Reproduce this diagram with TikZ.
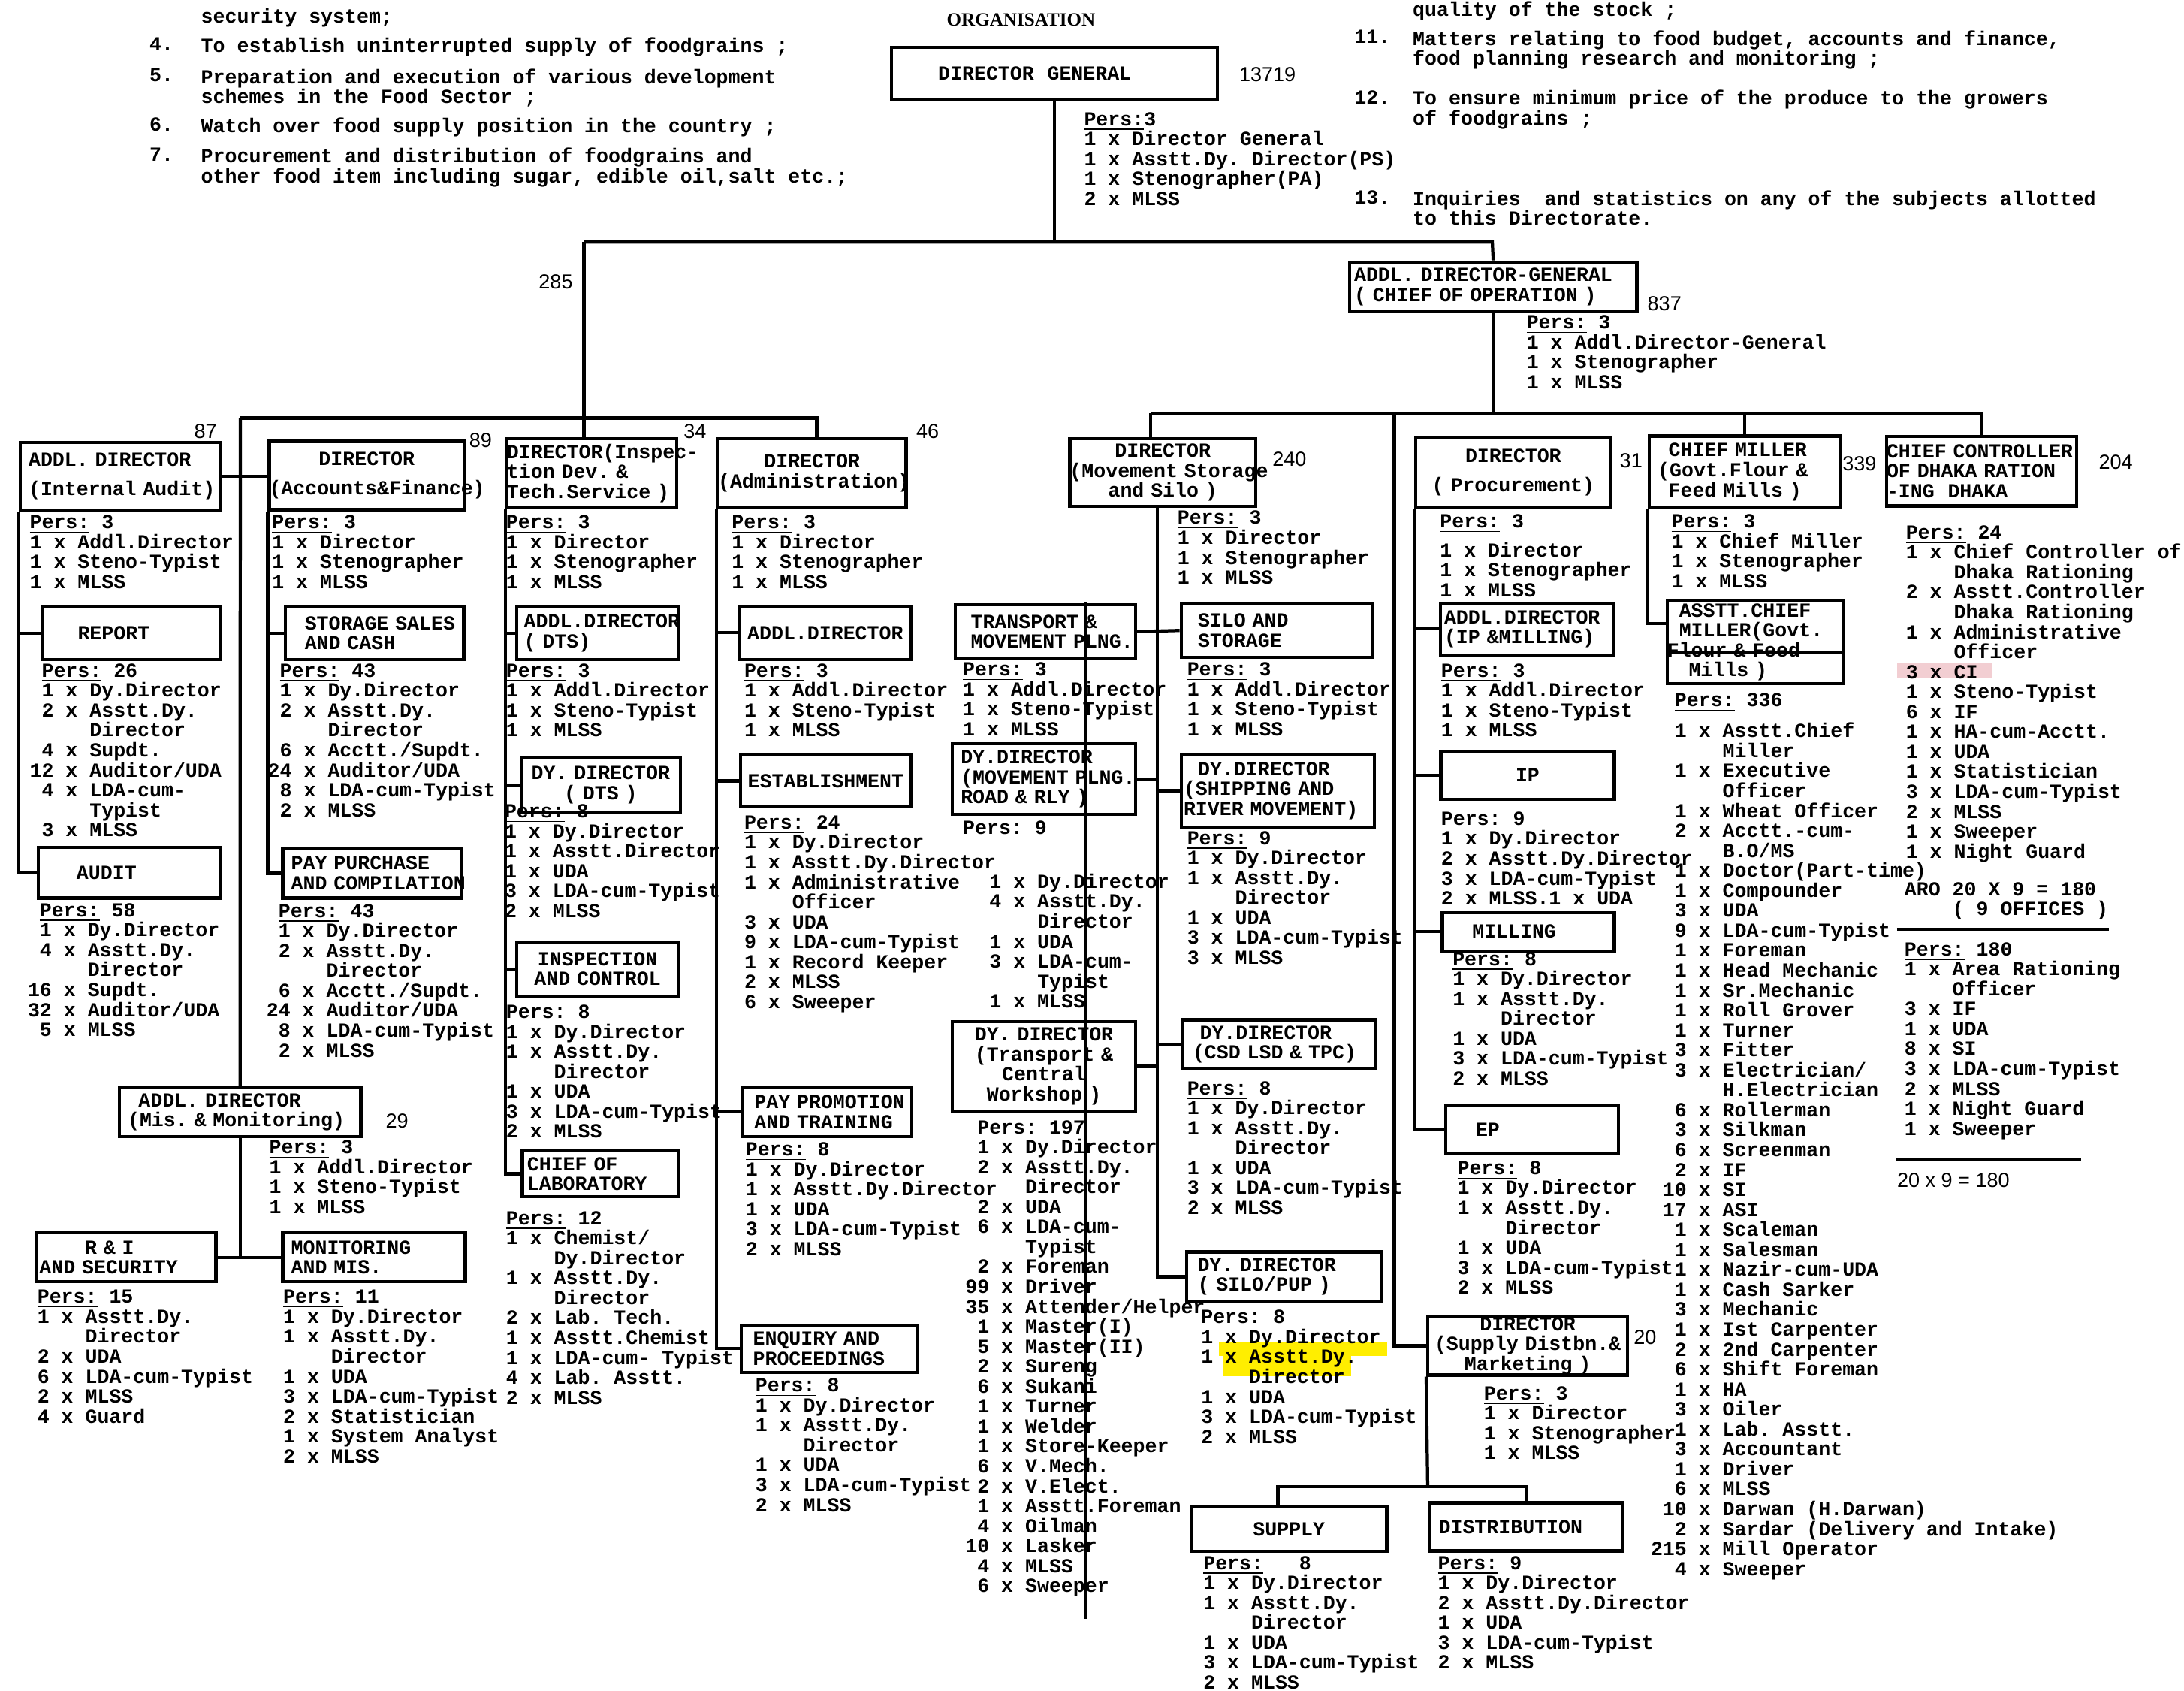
\documentclass[tikz,border=0pt]{standalone}
\usepackage{fontspec}
\setmainfont{Liberation Serif}
\setsansfont{Liberation Sans}
\setmonofont{Liberation Mono}
\frenchspacing
\newcommand{\chartfont}{\ttfamily\bfseries\fontsize{8.16}{8.15}\selectfont\lineskiplimit=-20pt}
\newcommand{\tallyfont}{\sffamily\fontsize{8.3}{9}\selectfont}
\newcommand{\titlefont}{\rmfamily\bfseries\fontsize{7.7}{9}\selectfont}
\newcommand{\Pers}{\underline{Pers:}}
\newcommand{\cols}[1]{\hspace*{#1\fontcharwd\font`0}}
\definecolor{marker}{RGB}{255,238,0}
\definecolor{rosemark}{RGB}{242,206,210}
\tikzstyle{unit} = [rectangle, draw=black, line width=1.3pt, inner sep=0pt, align=center, font=\chartfont]
\tikzstyle{staff} = [anchor=north west, inner sep=0pt, align=left, font=\chartfont]
\tikzstyle{tally} = [inner sep=0pt, font=\tallyfont]
\tikzstyle{link} = [line width=1.3pt]

\begin{document}
\begin{tikzpicture}[x=0.02cm, y=-0.02cm]
\path[use as bounding box, fill=white] (0,0) rectangle (1568,1213.7);

% marked lines
\fill[marker] (875,963) rectangle (996,973.5);
\fill[marker] (878,973.5) rectangle (970,988);
\fill[rosemark] (1362,476) rectangle (1430,486.5);

% functions of the directorate
\node (titl) [font=\titlefont, inner sep=0pt] at (733,14.4) {ORGANISATION};
\node (duty3) [staff] at (144,5.8) {security system;};
\node (num4) [staff] at (107,26.7) {4.};
\node (duty4) [staff] at (144,26.7) {To establish uninterrupted supply of foodgrains ;};
\node (num5) [staff] at (107,48.9) {5.};
\node (duty5) [staff] at (144,48.9) {Preparation and execution of various development\\schemes in the Food Sector ;};
\node (num6) [staff] at (107,84.1) {6.};
\node (duty6) [staff] at (144,84.1) {Watch over food supply position in the country ;};
\node (num7) [staff] at (107,105.8) {7.};
\node (duty7) [staff] at (144,105.8) {Procurement and distribution of foodgrains and\\other food item including sugar, edible oil,salt etc.;};
\node (duty10) [staff] at (1014,0.5) {quality of the stock ;};
\node (num11) [staff] at (972,21.4) {11.};
\node (duty11) [staff] at (1014,21.4) {Matters relating to food budget, accounts and finance,\\food planning research and monitoring ;};
\node (num12) [staff] at (972,64.5) {12.};
\node (duty12) [staff] at (1014,64.5) {To ensure minimum price of the produce to the growers\\of foodgrains ;};
\node (num13) [staff] at (972,136.4) {13.};
\node (duty13) [staff] at (1014,136.4) {Inquiries~ and statistics on any of the subjects allotted\\to this Directorate.};

% head office
\node (dg) [unit, align=left, text width=4.68cm, minimum height=0.75cm] at (757,52.8) {\cols{3.9}DIRECTOR~~GENERAL};
\node (addldg) [unit, align=left, text width=4.13cm, minimum height=0.71cm] at (1072,205.8) {\cols{0.4}ADDL. DIRECTOR-GENERAL\\\cols{0.4}( CHIEF OF OPERATION )};

% directors, left wing
\node (ia) [unit, align=left, text width=2.88cm, minimum height=0.97cm] at (86.5,341.7) {\cols{0.7}ADDL. DIRECTOR\\[4pt]\cols{0.7}(Internal~Audit)};
\node (acc) [unit, text width=2.80cm, minimum height=0.98cm] at (263.3,341.3) {DIRECTOR\\[4pt](Accounts\&Finance)};
\node (insp) [unit, align=left, text width=2.44cm, minimum height=0.99cm] at (424.9,339.7) {DIRECTOR(Inspec-\\tion Dev. \&\\Tech.Service~)};
\node (admin) [unit, text width=2.70cm, minimum height=0.99cm] at (583,339.7) {DIRECTOR\\(Administration)};
\node (report) [unit, align=left, text width=2.56cm, minimum height=0.76cm] at (94,454.5) {\cols{3}REPORT};
\node (audit) [unit, align=left, text width=2.61cm, minimum height=0.73cm] at (92.7,626.3) {\cols{3.2}AUDIT};
\node (ssc) [unit, align=left, text width=2.56cm, minimum height=0.76cm] at (269,454.5) {\cols{1.6}STORAGE~SALES\\\cols{1.6}AND CASH};
\node (ppc) [unit, align=left, text width=2.56cm, minimum height=0.71cm] at (267,626.8) {\cols{0.7}PAY~PURCHASE\\\cols{0.7}AND~COMPILATION};
\node (addldts) [unit, align=left, text width=2.32cm, minimum height=0.76cm] at (429,454.5) {\cols{0.6}ADDL.DIRECTOR\\\cols{0.6}( DTS)};
\node (dydts) [unit, text width=2.29cm, minimum height=0.78cm] at (431.3,563.5) {DY. DIRECTOR\\( DTS )};
\node (insctrl) [unit, text width=2.32cm, minimum height=0.78cm] at (429,695.5) {INSPECTION\\AND CONTROL};
\node (chieflab) [unit, align=left, text width=2.24cm, minimum height=0.66cm] at (431,842.5) {\cols{0.4}CHIEF OF\\\cols{0.4}LABORATORY};
\node (addlad) [unit, text width=2.46cm, minimum height=0.77cm] at (592.5,454.2) {ADDL.DIRECTOR};
\node (estab) [unit, text width=2.45cm, minimum height=0.74cm] at (592.8,560.5) {ESTABLISHMENT};
\node (ppt) [unit, align=left, text width=2.43cm, minimum height=0.71cm] at (593.7,798.2) {\cols{1}PAY~PROMOTION\\\cols{1}AND~TRAINING};
\node (enq) [unit, align=left, text width=2.54cm, minimum height=0.68cm] at (595.5,968) {\cols{1}ENQUIRY~AND\\\cols{1}PROCEEDINGS};
\node (mis) [unit, align=left, text width=3.47cm, minimum height=0.71cm] at (172.4,798.2) {\cols{1.6}ADDL. DIRECTOR\\\cols{0.7}(Mis.~\&~Monitoring)};
\node (ri) [unit, align=left, text width=2.57cm, minimum height=0.70cm] at (90.8,902.5) {\cols{4}R \& I\\\cols{0.2}AND~SECURITY};
\node (mon) [unit, align=left, text width=2.62cm, minimum height=0.70cm] at (268.5,902.5) {\cols{0.7}MONITORING\\\cols{0.7}AND MIS.};

% directors, operation wing
\node (move) [unit, text width=2.67cm, minimum height=0.97cm] at (834.8,339.1) {DIRECTOR\\(Movement~Storage\\and Silo )};
\node (transp) [unit, align=left, text width=2.59cm, minimum height=0.77cm] at (750.5,453.3) {\cols{1.3}TRANSPORT~\&\\\cols{1.3}MOVEMENT~PLNG.};
\node (road) [unit, align=left, text width=2.63cm, minimum height=1.01cm] at (749.5,559.2) {\cols{0.7}DY.DIRECTOR\\\cols{0.7}(MOVEMENT~PLNG.\\\cols{0.7}ROAD~\&~RLY~)};
\node (tcw) [unit, text width=2.63cm, minimum height=1.28cm] at (749.5,765.4) {DY. DIRECTOR\\(Transport \&\\Central\\Workshop )};
\node (silo) [unit, align=left, text width=2.74cm, minimum height=0.78cm] at (916.5,452.5) {\cols{1.4}SILO AND\\\cols{1.4}STORAGE};
\node (ship) [unit, align=left, text width=2.77cm, minimum height=1.05cm] at (917.3,567.5) {\cols{1.4}DY.DIRECTOR\\\cols{0.2}(SHIPPING~AND\\\cols{0.2}RIVER~MOVEMENT)};
\node (csd) [unit, align=left, text width=2.77cm, minimum height=0.71cm] at (918.6,749.7) {\cols{1.4}DY.DIRECTOR\\\cols{0.8}(CSD~LSD~\&~TPC)};
\node (silopup) [unit, align=left, text width=2.80cm, minimum height=0.71cm] at (922,916.3) {\cols{0.9}DY. DIRECTOR\\\cols{0.9}( SILO/PUP )};
\node (proc) [unit, text width=2.80cm, minimum height=1.02cm] at (1086.4,339.1) {DIRECTOR\\[4pt]( Procurement)};
\node (ipm) [unit, align=left, text width=2.48cm, minimum height=0.74cm] at (1096.3,451.5) {\cols{0.3}ADDL.DIRECTOR\\\cols{0.3}(IP~\&MILLING)};
\node (ip) [unit, text width=2.49cm, minimum height=0.68cm] at (1096.7,556.5) {IP};
\node (milling) [unit, align=left, text width=2.47cm, minimum height=0.55cm] at (1097.2,668.7) {\cols{2.5}MILLING};
\node (ep) [unit, align=left, text width=2.48cm, minimum height=0.69cm] at (1100,810.8) {\cols{2.5}EP};
\node (sd) [unit, text width=2.87cm, minimum height=0.84cm] at (1096.8,966) {DIRECTOR\\(Supply~Distbn.\&\\Marketing )};
\node (supply) [unit, text width=2.81cm, minimum height=0.64cm] at (925.4,1097.6) {SUPPLY};
\node (distr) [unit, align=left, text width=2.78cm, minimum height=0.69cm] at (1095.5,1095.9) {\cols{0.8}DISTRIBUTION};
\node (cm) [unit, align=left, text width=2.74cm, minimum height=1.03cm] at (1252.6,338.8) {\cols{1.6}CHIEF~MILLER\\\cols{0.7}(Govt.Flour~\&\\\cols{1.6}Feed~Mills~)};
\node (acm) [unit, align=left, text width=2.54cm, minimum height=1.18cm] at (1260.4,461) {\cols{1}ASSTT.CHIEF\\\cols{1}MILLER(Govt.\\Flour~\&~Feed\\\cols{1.8}Mills )};
\node (cc) [unit, align=left, text width=2.73cm, minimum height=1.00cm] at (1422.7,338.1) {CHIEF~CONTROLLER\\OF~DHAKA~RATION\\-ING~~DHAKA};

% strength figures
\node (dgtotal) [tally] at (910,53.6) {13719};
\node (lefttotal) [tally] at (399,202.5) {285};
\node (addldgtotal) [tally] at (1195,218.2) {837};
\node (iatotal) [tally] at (147.6,309.6) {87};
\node (acctotal) [tally] at (345,316) {89};
\node (insptotal) [tally] at (499,309.6) {34};
\node (admintotal) [tally] at (666,309.6) {46};
\node (movetotal) [tally] at (925.7,329.8) {240};
\node (proctotal) [tally] at (1171,330.5) {31};
\node (cmtotal) [tally] at (1335,333) {339};
\node (cctotal) [tally] at (1519,331.8) {204};
\node (mistotal) [tally] at (285,804.5) {29};
\node (sdtotal) [tally] at (1181,959.6) {20};
\node (arototal) [tally, anchor=west] at (1361.7,847) {20 x 9 = 180};

% personnel
\node (dgstaff) [staff] at (778,80.2) {\Pers3\\1 x Director General\\1 x Asstt.Dy. Director(PS)\\1 x Stenographer(PA)\\2 x MLSS};
\node (addldgstaff) [staff] at (1095.7,226) {\Pers~3\\1 x Addl.Director-General\\1 x Stenographer\\1 x MLSS};
\node (iastaff) [staff] at (21,369.5) {\Pers~3\\1 x Addl.Director\\1 x Steno-Typist\\1 x MLSS};
\node (accstaff) [staff] at (195,369.5) {\Pers~3\\1 x Director\\1 x Stenographer\\1 x MLSS};
\node (inspstaff) [staff] at (363,369.5) {\Pers~3\\1 x Director\\1 x Stenographer\\1 x MLSS};
\node (adminstaff) [staff] at (525,369.5) {\Pers~3\\1 x Director\\1 x Stenographer\\1 x MLSS};
\node (reportstaff) [staff] at (21,476) {\cols{1}\Pers~26\\\cols{1}1 x Dy.Director\\\cols{1}2 x Asstt.Dy.\\\cols{5}Director\\\cols{1}4 x Supdt.\\12 x Auditor/UDA\\\cols{1}4 x LDA-cum-\\\cols{5}Typist\\\cols{1}3 x MLSS};
\node (auditstaff) [staff] at (19.6,648) {\cols{1}\Pers~58\\\cols{1}1 x Dy.Director\\\cols{1}4 x Asstt.Dy.\\\cols{5}Director\\16 x Supdt.\\32 x Auditor/UDA\\\cols{1}5 x MLSS};
\node (sscstaff) [staff] at (192,476) {\cols{1}\Pers~43\\\cols{1}1 x Dy.Director\\\cols{1}2 x Asstt.Dy.\\\cols{5}Director\\\cols{1}6 x Acctt./Supdt.\\24 x Auditor/UDA\\\cols{1}8 x LDA-cum-Typist\\\cols{1}2 x MLSS};
\node (ppcstaff) [staff] at (191,648.5) {\cols{1}\Pers~43\\\cols{1}1 x Dy.Director\\\cols{1}2 x Asstt.Dy.\\\cols{5}Director\\\cols{1}6 x Acctt./Supdt.\\24 x Auditor/UDA\\\cols{1}8 x LDA-cum-Typist\\\cols{1}2 x MLSS};
\node (addldtsstaff) [staff] at (363,476) {\Pers~3\\1 x Addl.Director\\1 x Steno-Typist\\1 x MLSS};
\node (dydtsstaff) [staff] at (362,577) {\Pers~8\\1 x Dy.Director\\1 x Asstt.Director\\1 x UDA\\3 x LDA-cum-Typist\\2 x MLSS};
\node (insctrlstaff) [staff] at (363,721) {\Pers~8\\1 x Dy.Director\\1 x Asstt.Dy.\\\cols{4}Director\\1 x UDA\\3 x LDA-cum-Typist\\2 x MLSS};
\node (chieflabstaff) [staff] at (363,869) {\Pers~12\\1 x Chemist/\\\cols{4}Dy.Director\\1 x Asstt.Dy.\\\cols{4}Director\\2 x Lab. Tech.\\1 x Asstt.Chemist\\1 x LDA-cum- Typist\\4 x Lab. Asstt.\\2 x MLSS};
\node (addladstaff) [staff] at (534,476) {\Pers~3\\1 x Addl.Director\\1 x Steno-Typist\\1 x MLSS};
\node (estabstaff) [staff] at (534,585) {\Pers~24\\1 x Dy.Director\\1 x Asstt.Dy.Director\\1 x Administrative\\\cols{4}Officer\\3 x UDA\\9 x LDA-cum-Typist\\1 x Record Keeper\\2 x MLSS\\6 x Sweeper};
\node (pptstaff) [staff] at (535,819.7) {\Pers~8\\1 x Dy.Director\\1 x Asstt.Dy.Director\\1 x UDA\\3 x LDA-cum-Typist\\2 x MLSS};
\node (enqstaff) [staff] at (542,989) {\Pers~8\\1 x Dy.Director\\1 x Asstt.Dy.\\\cols{4}Director\\1 x UDA\\3 x LDA-cum-Typist\\2 x MLSS};
\node (misstaff) [staff] at (193,818) {\Pers~3\\1 x Addl.Director\\1 x Steno-Typist\\1 x MLSS};
\node (ristaff) [staff] at (26.5,925.6) {\Pers~15\\1 x Asstt.Dy.\\\cols{4}Director\\2 x UDA\\6 x LDA-cum-Typist\\2 x MLSS\\4 x Guard};
\node (monstaff) [staff] at (203,925.6) {\Pers~11\\1 x Dy.Director\\1 x Asstt.Dy.\\\cols{4}Director\\1 x UDA\\3 x LDA-cum-Typist\\2 x Statistician\\1 x System Analyst\\2 x MLSS};
\node (movestaff) [staff] at (845,366.4) {\Pers~3\\1 x Director\\1 x Stenographer\\1 x MLSS};
\node (transpstaff) [staff] at (691,475.2) {\Pers~3\\1 x Addl.Director\\1 x Steno-Typist\\1 x MLSS};
\node (roadpers) [staff] at (691,588.9) {\Pers~9};
\node (roadstaff) [staff] at (710,626.8) {1 x Dy.Director\\4 x Asstt.Dy.\\\cols{4}Director\\1 x UDA\\3 x LDA-cum-\\\cols{4}Typist\\1 x MLSS};
\node (tcwstaff) [staff] at (692.7,803.7) {\cols{1}\Pers~197\\\cols{1}1 x Dy.Director\\\cols{1}2 x Asstt.Dy.\\\cols{5}Director\\\cols{1}2 x UDA\\\cols{1}6 x LDA-cum-\\\cols{5}Typist\\\cols{1}2 x Foreman\\99 x Driver\\35 x Attender/Helper\\\cols{1}1 x Master(I)\\\cols{1}5 x Master(II)\\\cols{1}2 x Sureng\\\cols{1}6 x Sukani\\\cols{1}1 x Turner\\\cols{1}1 x Welder\\\cols{1}1 x Store-Keeper\\\cols{1}6 x V.Mech.\\\cols{1}2 x V.Elect.\\\cols{1}1 x Asstt.Foreman\\\cols{1}4 x Oilman\\10 x Lasker\\\cols{1}4 x MLSS\\\cols{1}6 x Sweeper};
\node (silostaff) [staff] at (852,475.2) {\Pers~3\\1 x Addl.Director\\1 x Steno-Typist\\1 x MLSS};
\node (shipstaff) [staff] at (852,596.2) {\Pers~9\\1 x Dy.Director\\1 x Asstt.Dy.\\\cols{4}Director\\1 x UDA\\3 x LDA-cum-Typist\\3 x MLSS};
\node (csdstaff) [staff] at (852,775.7) {\Pers~8\\1 x Dy.Director\\1 x Asstt.Dy.\\\cols{4}Director\\1 x UDA\\3 x LDA-cum-Typist\\2 x MLSS};
\node (silopupstaff) [staff] at (862,940) {\Pers~8\\1 x Dy.Director\\1 x Asstt.Dy.\\\cols{4}Director\\1 x UDA\\3 x LDA-cum-Typist\\2 x MLSS};
\node (supplystaff) [staff] at (863.6,1116.5) {\Pers~~~8\\1 x Dy.Director\\1 x Asstt.Dy.\\\cols{4}Director\\1 x UDA\\3 x LDA-cum-Typist\\2 x MLSS};
\node (distrstaff) [staff] at (1032,1116.5) {\Pers~9\\1 x Dy.Director\\2 x Asstt.Dy.Director\\1 x UDA\\3 x LDA-cum-Typist\\2 x MLSS};
\node (procstaff) [staff] at (1033.5,369) {\Pers~3\\[3.7pt]1 x Director\\1 x Stenographer\\1 x MLSS};
\node (ipmstaff) [staff] at (1034.3,476) {\Pers~3\\1 x Addl.Director\\1 x Steno-Typist\\1 x MLSS};
\node (ipstaff) [staff] at (1034.3,582.3) {\Pers~9\\1 x Dy.Director\\2 x Asstt.Dy.Director\\3 x LDA-cum-Typist\\2 x MLSS.1 x UDA};
\node (millingstaff) [staff] at (1042.6,683) {\Pers~8\\1 x Dy.Director\\1 x Asstt.Dy.\\\cols{4}Director\\1 x UDA\\3 x LDA-cum-Typist\\2 x MLSS};
\node (epstaff) [staff] at (1046,833) {\Pers~8\\1 x Dy.Director\\1 x Asstt.Dy.\\\cols{4}Director\\1 x UDA\\3 x LDA-cum-Typist\\2 x MLSS};
\node (sdstaff) [staff] at (1065,994.6) {\Pers~3\\1 x Director\\1 x Stenographer\\1 x MLSS};
\node (cmstaff) [staff] at (1199.7,369) {\Pers~3\\1 x Chief Miller\\1 x Stenographer\\1 x MLSS};
\node (acmstaff) [staff] at (1184.8,497.4) {\cols{2}\Pers~336\\[4.4pt]\cols{2}1 x Asstt.Chief\\\cols{6}Miller\\\cols{2}1 x Executive\\\cols{6}Officer\\\cols{2}1 x Wheat Officer\\\cols{2}2 x Acctt.-cum-\\\cols{6}B.O/MS\\\cols{2}1 x Doctor(Part-time)\\\cols{2}1 x Compounder\\\cols{2}3 x UDA\\\cols{2}9 x LDA-cum-Typist\\\cols{2}1 x Foreman\\\cols{2}1 x Head Mechanic\\\cols{2}1 x Sr.Mechanic\\\cols{2}1 x Roll Grover\\\cols{2}1 x Turner\\\cols{2}3 x Fitter\\\cols{2}3 x Electrician/\\\cols{6}H.Electrician\\\cols{2}6 x Rollerman\\\cols{2}3 x Silkman\\\cols{2}6 x Screenman\\\cols{2}2 x IF\\\cols{1}10 x SI\\\cols{1}17 x ASI\\\cols{2}1 x Scaleman\\\cols{2}1 x Salesman\\\cols{2}1 x Nazir-cum-UDA\\\cols{2}1 x Cash Sarker\\\cols{2}3 x Mechanic\\\cols{2}1 x Ist Carpenter\\\cols{2}2 x 2nd Carpenter\\\cols{2}6 x Shift Foreman\\\cols{2}1 x HA\\\cols{2}3 x Oiler\\\cols{2}1 x Lab. Asstt.\\\cols{2}3 x Accountant\\\cols{2}1 x Driver\\\cols{2}6 x MLSS\\\cols{1}10 x Darwan (H.Darwan)\\\cols{2}2 x Sardar (Delivery and Intake)\\215 x Mill Operator\\\cols{2}4 x Sweeper};
\node (ccstaff) [staff] at (1368,376.8) {\Pers~24\\1 x Chief Controller of\\\cols{4}Dhaka Rationing\\2 x Asstt.Controller\\\cols{4}Dhaka Rationing\\1 x Administrative\\\cols{4}Officer\\3 x CI\\1 x Steno-Typist\\6 x IF\\1 x HA-cum-Acctt.\\1 x UDA\\1 x Statistician\\3 x LDA-cum-Typist\\2 x MLSS\\1 x Sweeper\\1 x Night Guard};
\node (arostaff) [staff] at (1367,633) {ARO 20 X 9 = 180\\\cols{4}( 9 OFFICES )};
\node (aropers) [staff] at (1367,676) {\Pers~180\\1 x Area Rationing\\\cols{4}Officer\\3 x IF\\1 x UDA\\8 x SI\\3 x LDA-cum-Typist\\2 x MLSS\\1 x Night Guard\\1 x Sweeper};

% connectors
\coordinate (topL) at (419.2,173.8);
\coordinate (topR) at (1071.4,173.8);
\coordinate (lbusW) at (172.5,300);
\coordinate (lbusE) at (586.4,300);
\coordinate (rbusW) at (826,296.6);
\coordinate (rbusM) at (1001,296.6);
\coordinate (rbusE) at (1423,296.6);
\coordinate (sdbus) at (1025,1067);
\coordinate (movefoot) at ([xshift=-0.08cm]move.south);
\coordinate (acmstub) at ([yshift=-0.34cm]acm.north west);
\coordinate (supplytop) at ([xshift=-0.16cm]supply.north);

\draw [link] (dg.south) -- (dg.south |- topL);
\draw [link] (topL) -- (topR) -- (addldg.north);
\draw [link] (topL) -- (topL |- insp.north);
\draw [link] (lbusW) -- (lbusE) -- (lbusE |- admin.north);
\draw [link] (lbusW) -- (mis.north);
\draw [link] (ia.east) -- (ia.east -| acc.west);
\draw [link] (ia.south west) |- (audit.west);
\draw [link] (ia.south west |- report.west) -- (report.west);
\draw [link] (acc.south west) |- (ppc.west);
\draw [link] (acc.south west |- ssc.west) -- (ssc.west);
\draw [link] (insp.south west) |- (chieflab.west);
\draw [link] (insp.south west |- addldts.west) -- (addldts.west);
\draw [link] (insp.south west |- dydts.west) -- (dydts.west);
\draw [link] (insp.south west |- insctrl.west) -- (insctrl.west);
\draw [link] (admin.south west) |- (enq.west);
\draw [link] (admin.south west |- addlad.west) -- (addlad.west);
\draw [link] (admin.south west |- estab.west) -- (estab.west);
\draw [link] (admin.south west |- ppt.west) -- (ppt.west);
\draw [link] (mis.south) -- (mis.south |- ri.east);
\draw [link] (ri.east) -- (mon.west);

\draw [link] (addldg.south) -- (addldg.south |- rbusW);
\draw [link] (rbusW) -- (rbusE) -- (rbusE |- cc.north);
\draw [link] (rbusW) -- (rbusW |- move.north);
\draw [link] (cm.north |- rbusW) -- (cm.north);
\draw [link] (rbusM) |- (sd.west);
\draw [link] (movefoot) |- (silopup.west);
\draw [link] (transp.east) -- (silo.west);
\draw [link] (road.east) -- (road.east -| movefoot);
\draw [link] (ship.west) -- (ship.west -| movefoot);
\draw [link] (tcw.east) -- (tcw.east -| movefoot);
\draw [link] (csd.west) -- (csd.west -| movefoot);
\draw [link] (proc.south west) |- (ep.west);
\draw [link] (proc.south west |- ipm.west) -- (ipm.west);
\draw [link] (proc.south west |- ip.west) -- (ip.west);
\draw [link] (proc.south west |- milling.west) -- (milling.west);
\draw [link] (cm.south west) |- (acmstub);
\draw [link] ([yshift=-0.756cm]acm.north west) -- ([yshift=-0.756cm]acm.north east);
\draw [link] (sd.south west) -- (sdbus);
\draw [link] (supplytop) |- (sdbus) -| (distr.north);

% rules under the rationing figures and the page fold
\draw [link] (1362,667) -- (1514,667);
\draw [link] (1361,832.5) -- (1494,832.5);
\draw [link] (779,432) -- (779,1162);
\end{tikzpicture}
\end{document}
